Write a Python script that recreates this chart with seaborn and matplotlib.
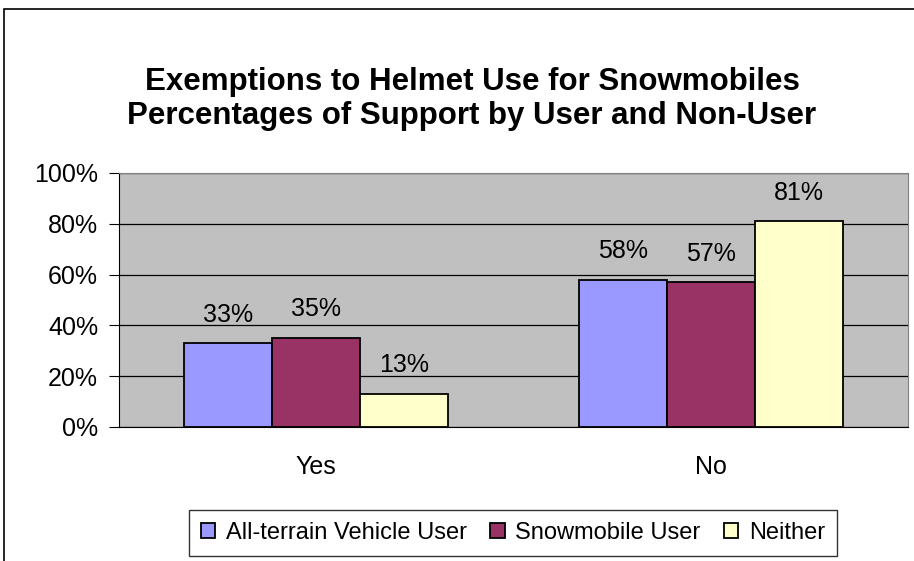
import matplotlib
matplotlib.use("Agg")
import matplotlib.pyplot as plt
import seaborn as sns
import pandas as pd
from matplotlib.patches import Rectangle

# ---- data ----
answers = ["Yes", "No"]
groups = ["All-terrain Vehicle User", "Snowmobile User", "Neither"]
atv_user = [33, 58]
snowmobile_user = [35, 57]
neither = [13, 81]
colors = ["#9999FF", "#993366", "#FFFFCC"]

df = pd.DataFrame({
    "answer": answers * 3,
    "group": [g for g in groups for _ in answers],
    "pct": atv_user + snowmobile_user + neither,
})

sns.set_style("white")
plt.rcParams["font.family"] = ["Liberation Sans", "DejaVu Sans"]
plt.rcParams["text.color"] = "black"
plt.rcParams["xtick.color"] = "black"
plt.rcParams["ytick.color"] = "black"
plt.rcParams["axes.labelcolor"] = "black"

fig = plt.figure(figsize=(9.14, 5.61), dpi=100)
ax = fig.add_axes([119 / 914, 1 - 427 / 561, 789 / 914, 254 / 561])

sns.barplot(data=df, x="answer", y="pct", hue="group", order=answers,
            hue_order=groups, palette=colors, saturation=1, width=0.67, gap=0,
            edgecolor="black", linewidth=1.3, ax=ax, legend=True)

ax.set_facecolor("#C0C0C0")
ax.set_ylim(0, 100)
ax.set_xlim(-0.5, 1.5)
ax.set_yticks(range(0, 101, 20))
ax.set_yticklabels([f"{v}%" for v in range(0, 101, 20)], fontsize=18)
ax.set_xticks([0, 1])
ax.set_xticklabels(answers, fontsize=18)
ax.set_xticks([-0.5, 0.5, 1.5], minor=True)
ax.tick_params(axis="x", which="major", length=0, pad=20)
ax.tick_params(axis="x", which="minor", length=7, color="black", direction="out")
ax.tick_params(axis="y", length=7, color="black", direction="out", pad=8, left=True)
ax.set_xlabel("")
ax.set_ylabel("")
ax.grid(axis="y", color="black", linewidth=0.9)
ax.set_axisbelow(True)
for side in ["top", "right"]:
    ax.spines[side].set_color("#808080")
for side in ["left", "bottom"]:
    ax.spines[side].set_color("black")

# value labels
for cont in ax.containers:
    ax.bar_label(cont, labels=[f"{v:.0f}%" for v in cont.datavalues],
                 fontsize=18, padding=12, color="black")

# title
fig.text(472 / 914, 1 - 99 / 561, "Exemptions to Helmet Use for Snowmobiles\n"
         "Percentages of Support by User and Non-User",
         ha="center", va="center", fontsize=22.5, fontweight="bold",
         linespacing=1.2, color="black")

# legend at bottom
handles, labels = ax.get_legend_handles_labels()
ax.get_legend().remove()
leg = fig.legend(handles, labels, loc="center", ncol=3,
                 bbox_to_anchor=(513 / 914, 1 - 533 / 561), fontsize=17,
                 frameon=True, fancybox=False, edgecolor="black",
                 handlelength=0.6, handleheight=0.6, handletextpad=0.45,
                 columnspacing=1.0, borderpad=0.5)
leg.get_frame().set_linewidth(1.0)

# chart border
fig.patches.append(Rectangle((4 / 914, -0.1), 1.2, 1 - 9 / 561 + 0.1,
                             transform=fig.transFigure, fill=False,
                             edgecolor="black", linewidth=1.2))

fig.savefig("out.png", dpi=100)
